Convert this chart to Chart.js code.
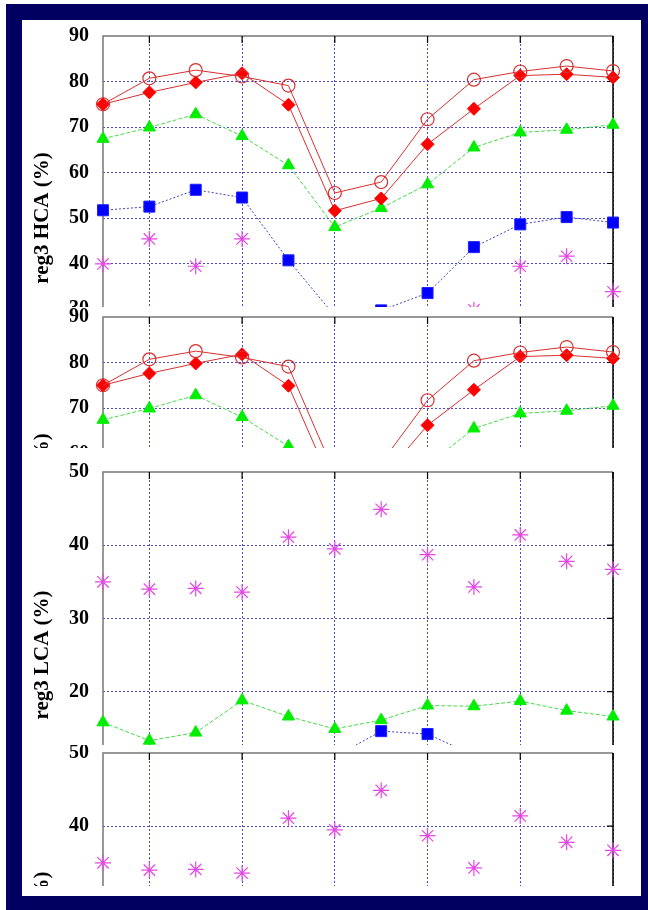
<!DOCTYPE html>
<html lang="en">
<head>
<meta charset="UTF-8">
<title>reg3 HCA / LCA</title>
<script src="https://cdn.jsdelivr.net/npm/chart.js"></script>
<style>
    body { margin: 0; background: #fff; }
    .navy { position: absolute; left: 6px; top: 4px; width: 642px; height: 906px; background: #000060; }
    .sheet { position: absolute; left: 22px; top: 20px; width: 619px; height: 876px; background: #fff; }
    .panel { position: absolute; left: 22px; width: 619px; overflow: hidden; background: #fff; }
    .panel canvas { position: absolute; left: 0; }
</style>
</head>
<body>
<div class="navy"></div>
<div class="sheet"></div>
<!-- each panel is a full chart, cut off by its box like the stacked slide images -->
<div class="panel" style="top:20px;height:287px"><canvas id="hca1" width="619" height="416" style="top:-10px"></canvas></div>
<div class="panel" style="top:307px;height:141px"><canvas id="hca2" width="619" height="416" style="top:-16px"></canvas></div>
<div class="panel" style="top:448px;height:297px"><canvas id="lca1" width="619" height="418" style="top:-2px"></canvas></div>
<div class="panel" style="top:745px;height:141px"><canvas id="lca2" width="619" height="418" style="top:-18px"></canvas></div>

<script>
// 12 points along x, no labels shown
const categories = ['1', '2', '3', '4', '5', '6', '7', '8', '9', '10', '11', '12'];

// reg3 HCA (%)
const hcaCircles  = [75.0, 80.7, 82.5, 81.1, 79.1, 55.5, 57.9, 71.7, 80.4, 82.2, 83.4, 82.3];
const hcaDiamonds = [75.0, 77.6, 79.8, 81.8, 74.9, 51.6, 54.3, 66.2, 74.0, 81.3, 81.6, 80.9];
const hcaTriangles = [67.4, 69.9, 72.8, 68.0, 61.6, 48.0, 52.2, 57.4, 65.5, 68.8, 69.4, 70.5];
const hcaSquares  = [51.7, 52.5, 56.2, 54.5, 40.7, 28.5, 29.7, 33.5, 43.6, 48.6, 50.2, 49.0];
const hcaStars    = [39.9, 45.4, 39.4, 45.4, null, null, null, null, 29.8, 39.4, 41.6, 33.8];

// reg3 LCA (%)
const lcaStars     = [35.0, 34.0, 34.1, 33.6, 41.1, 39.5, 44.9, 38.7, 34.3, 41.4, 37.8, 36.7];
const lcaTriangles = [15.8, 13.3, 14.4, 18.8, 16.6, 14.9, 16.1, 18.1, 18.0, 18.7, 17.4, 16.6];
const lcaSquares   = [null, null, null, null, null, 11.1, 14.6, 14.2, 11.3, null, null, null];

const serif = { family: 'Liberation Serif', size: 20, weight: 'bold' };
const serifTitle = { family: 'Liberation Serif', size: 21, weight: 'bold' };
const gridBlue = '#4a4ad0';

function circles(data) {
    return { data, borderColor: '#d83030', borderWidth: 1, pointStyle: 'circle', pointRadius: 6.5,
             pointBackgroundColor: 'rgba(0,0,0,0)', pointBorderWidth: 1.2, clip: false };
}
function diamonds(data) {
    return { data, borderColor: '#d83030', borderWidth: 1, pointStyle: 'rectRot', pointRadius: 6.5,
             pointBackgroundColor: '#ff0000', pointBorderColor: '#ff0000', clip: false };
}
function triangles(data) {
    return { data, borderColor: '#44dd44', borderWidth: 1, borderDash: [4, 2], pointStyle: 'triangle',
             pointRadius: 7, pointBackgroundColor: '#00ee00', pointBorderColor: '#00ee00', clip: false };
}
function squares(data) {
    return { data, borderColor: '#4040c0', borderWidth: 1, borderDash: [2, 2], pointStyle: 'rect',
             pointRadius: 7.8, pointBackgroundColor: '#0000ff', pointBorderColor: '#2020ff', clip: false };
}
function stars(data) {
    return { data, showLine: false, pointStyle: 'star', pointRadius: 8, pointBorderWidth: 1.2,
             pointBorderColor: '#e448e4', borderColor: '#e448e4', clip: false };
}

// frame + gnuplot style inward ticks
const framePlugin = {
    id: 'frame',
    beforeDatasetsDraw(chart) {
        const { ctx, chartArea: a, scales: { x, y } } = chart;
        ctx.save();
        ctx.lineWidth = 1.5;
        ctx.strokeStyle = '#777';
        ctx.beginPath();
        ctx.moveTo(a.left, a.bottom);
        ctx.lineTo(a.left, a.top);
        ctx.lineTo(a.right, a.top);
        ctx.stroke();
        ctx.strokeStyle = '#000';
        ctx.beginPath();
        ctx.moveTo(a.right, a.top);
        ctx.lineTo(a.right, a.bottom);
        ctx.stroke();
        ctx.lineWidth = 1.2;
        ctx.beginPath();
        categories.forEach((c, i) => {
            if (i % 2 === 1) {
                const px = x.getPixelForValue(i);
                ctx.moveTo(px, a.top);
                ctx.lineTo(px, a.top + 7);
            }
        });
        y.ticks.forEach(t => {
            if (t.value > y.min && t.value < y.max) {
                const py = y.getPixelForValue(t.value);
                ctx.moveTo(a.right - 6, py);
                ctx.lineTo(a.right, py);
            }
        });
        ctx.stroke();
        ctx.restore();
    }
};

function makeChart(id, title, min, max, datasets) {
    return new Chart(document.getElementById(id), {
        type: 'line',
        data: { labels: categories, datasets },
        options: {
            responsive: false,
            animation: false,
            events: [],
            layout: { padding: { left: 0, right: 28, top: 4, bottom: 0 } },
            plugins: { legend: { display: false }, tooltip: { enabled: false } },
            scales: {
                x: {
                    offset: false,
                    ticks: { display: false },
                    grid: { color: c => (c.index % 2 === 1 ? gridBlue : 'rgba(0,0,0,0)'), drawTicks: false, lineWidth: 1 },
                    border: { display: false, dash: [2, 2] },
                    afterFit: s => { s.height = 0; }
                },
                y: {
                    min, max,
                    ticks: { stepSize: 10, padding: 14, color: '#000', font: serif },
                    grid: { color: c => (c.tick && c.tick.value < max && c.tick.value > min ? gridBlue : 'rgba(0,0,0,0)'),
                            drawTicks: false, lineWidth: 1 },
                    border: { display: false, dash: [2, 2] },
                    title: { display: true, text: 'reg3 ' + title + ' (%)', color: '#000', font: serifTitle, padding: { top: 8, bottom: 0 } },
                    afterFit: s => { s.width = 81; }
                }
            }
        },
        plugins: [framePlugin]
    });
}

function hcaSets() {
    return [circles(hcaCircles), diamonds(hcaDiamonds), triangles(hcaTriangles), squares(hcaSquares), stars(hcaStars)];
}
function lcaSets() {
    return [triangles(lcaTriangles), squares(lcaSquares), stars(lcaStars)];
}

makeChart('hca1', 'HCA', 10, 90, hcaSets());
makeChart('hca2', 'HCA', 10, 90, hcaSets());
makeChart('lca1', 'LCA', 0, 50, lcaSets());
makeChart('lca2', 'LCA', 0, 50, lcaSets());
</script>
</body>
</html>
